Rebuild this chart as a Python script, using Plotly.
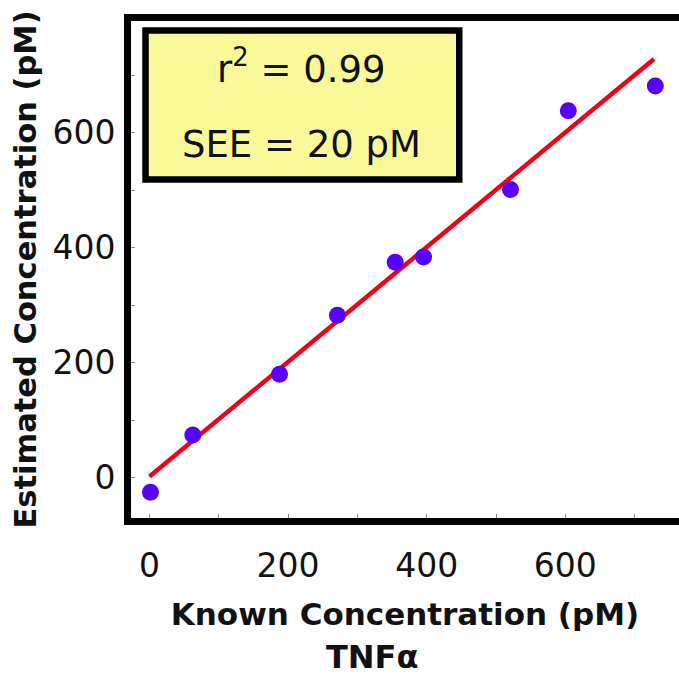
import plotly.graph_objects as go

# Data
known = [1.4, 62.5, 187.6, 271.1, 354.5, 395.4, 520.9, 604.3, 729.8]
estimated = [-25.4, 74.2, 179.7, 282.3, 374.7, 383.9, 500.9, 637.9, 680.9]
fit_x = [0, 728]
fit_y = [2, 728]
tick_vals = [0, 200, 400, 600]
minor_vals = [0, 100, 200, 300, 400, 500, 600, 700]
r2_text = "r<sup>2</sup> = 0.99"
see_text = "SEE = 20 pM"

FONT = "DejaVu Sans"

fig = go.Figure()
fig.add_trace(go.Scatter(x=fit_x, y=fit_y, mode="lines",
                         line=dict(color="rgb(240,0,25)", width=4.5),
                         showlegend=False, hoverinfo="skip"))
fig.add_trace(go.Scatter(x=known, y=estimated, mode="markers",
                         marker=dict(color="rgb(88,0,255)", size=17),
                         showlegend=False))

fig.update_layout(
    width=679, height=679,
    margin=dict(l=131, r=0, t=21, b=161),
    plot_bgcolor="white", paper_bgcolor="white",
    font=dict(family=FONT, color="#111111"),
    xaxis=dict(range=[-26.7, 764], showgrid=False, zeroline=False,
               showline=True, linecolor="black", linewidth=7, mirror=True,
               tickmode="array", tickvals=tick_vals,
               ticks="", tickfont=dict(size=33, family=FONT),
               ticklabelstandoff=12,
               minor=dict(tickmode="array", tickvals=minor_vals, ticks="inside",
                          ticklen=4, tickcolor="#888888", tickwidth=1),
               title=dict(text="<b>Known Concentration (pM)</b>",
                          font=dict(size=31, family=FONT), standoff=22)),
    yaxis=dict(range=[-70, 794], showgrid=False, zeroline=False,
               showline=True, linecolor="black", linewidth=7, mirror=False,
               tickmode="array", tickvals=tick_vals,
               ticks="", tickfont=dict(size=33, family=FONT),
               ticklabelstandoff=2,
               minor=dict(tickmode="array", tickvals=minor_vals, ticks="inside",
                          ticklen=4, tickcolor="#888888", tickwidth=1),
               title=dict(text="<b>Estimated Concentration (pM)</b>",
                          font=dict(size=30.5, family=FONT), standoff=9)),
    shapes=[dict(type="rect", xref="paper", yref="paper",
                 x0=0.0265, x1=0.599, y0=0.681, y1=0.981,
                 fillcolor="rgb(249,249,154)",
                 line=dict(color="black", width=6.5), layer="above")],
    annotations=[
        dict(text=r2_text, xref="paper", yref="paper", x=0.312, y=0.909,
             xanchor="center", yanchor="middle", showarrow=False,
             font=dict(size=37, family=FONT, color="#111111")),
        dict(text=see_text, xref="paper", yref="paper", x=0.312, y=0.7525,
             xanchor="center", yanchor="middle", showarrow=False,
             font=dict(size=37, family=FONT, color="#111111")),
        dict(text="<b>TNFα</b>", xref="paper", yref="paper", x=0.44, y=-0.28,
             xanchor="center", yanchor="middle", showarrow=False,
             font=dict(size=32, family=FONT, color="#111111")),
    ],
)

fig.write_html("out.html", config={"displayModeBar": False},
               post_script="document.body.style.margin='0';document.body.style.overflow='hidden';")
